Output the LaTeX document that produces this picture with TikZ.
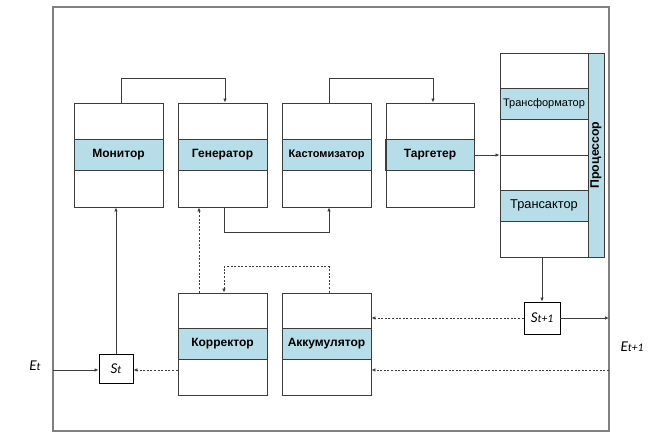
\documentclass[tikz,border=0pt]{standalone}
\usepackage{fontspec}
\setmainfont{Liberation Sans}
\newfontfamily\calib{Carlito}
\usetikzlibrary{arrows.meta}
\definecolor{bandc}{RGB}{183,221,232}
\definecolor{framec}{RGB}{128,128,128}
\definecolor{linec}{RGB}{60,60,60}
\tikzset{
  modbox/.style={draw=linec, line width=0.9pt, minimum width=89pt, minimum height=104pt, inner sep=0pt},
  band/.style={fill=bandc, draw=linec, line width=0.9pt, minimum width=89pt, minimum height=31pt, inner sep=0pt, font=\bfseries\fontsize{12}{14}\selectfont},
  arr/.style={draw=linec, line width=0.7pt, -{Latex[length=4pt,width=3.5pt]}},
  darr/.style={arr, dash pattern=on 2pt off 1.6pt},
  plain/.style={draw=linec, line width=0.7pt},
  sbox/.style={draw=black, line width=0.9pt, fill=white, inner sep=0pt},
  lbl/.style={font=\calib\itshape\fontsize{15}{17}\selectfont, inner sep=0pt}
}
\newcommand{\sub}[1]{{\fontsize{11.5}{13}\selectfont #1}}
\begin{document}
\begin{tikzpicture}[x=1pt,y=-1pt]
\useasboundingbox (0,0) rectangle (658,437);
\draw[framec, line width=1.4pt] (53,7) rectangle (609,431);
% top row
\node[band] (monl) at (118.5,154.5) {Монитор};
\node[modbox] (mon) at (118.5,155) {};
\node[band] (genl) at (222.5,154.5) {Генератор};
\node[modbox] (gen) at (222.5,155) {};
\node[band, font=\bfseries\fontsize{11}{13}\selectfont] (kasl) at (326.5,154.5) {Кастомизатор};
\node[modbox] (kas) at (326.5,155) {};
\node[band] (tarl) at (430,154.5) {Таргетер};
\node[modbox, minimum width=88pt] (tar) at (430,155) {};
% processor
\node[band, minimum width=88pt, font=\fontsize{11}{13}\selectfont] (trf) at (544,103.5) {Трансформатор};
\node[band, minimum width=88pt, font=\fontsize{12.8}{14}\selectfont] (trs) at (544,205.5) {Трансактор};
\node[band, minimum width=16pt, minimum height=204pt] (prl) at (596,155) {};
\node[rotate=90, font=\bfseries\fontsize{12.3}{14}\selectfont, inner sep=0pt] (prt) at (596,155) {Процессор};
\node[draw=linec, line width=0.9pt, minimum width=104pt, minimum height=204pt, inner sep=0pt] (proc) at (552,155) {};
\draw[plain] (proc.west |- tar.east) -- (prl.west |- tar.east);
% bottom row
\node[band] (korl) at (222.5,343.5) {Корректор};
\node[modbox, minimum height=102pt] (kor) at (222.5,344) {};
\node[band] (akkl) at (326.5,343.5) {Аккумулятор};
\node[modbox, minimum height=102pt] (akk) at (326.5,344) {};
% state boxes
\node[sbox, minimum width=34pt, minimum height=29pt] (st) at (116,369) {\calib\itshape\fontsize{15}{17}\selectfont S\sub{t}};
\node[sbox, minimum width=36pt, minimum height=32pt] (stn) at (542,318) {\calib\itshape\fontsize{15}{17}\selectfont S\sub{t+1}};
% labels
\node[lbl] (et) at (35,366) {E\sub{t}};
\node[lbl] (etn) at (632,347) {E\sub{t+1}};
\coordinate (ein) at (53,370);
\coordinate (eout) at (609,318);
\coordinate (ein2) at (609,370);
% connectors
\draw[arr] ([xshift=2.5pt]mon.north) -- ++(0,-24) -| ([xshift=2.5pt]gen.north);
\draw[arr] ([xshift=2.5pt]kas.north) -- ++(0,-24) -| ([xshift=3pt]tar.north);
\draw[arr] ([xshift=1.5pt]gen.south) -- ++(0,25) -| ([xshift=2.5pt]kas.south);
\draw[arr] (tar.east) -- (proc.west |- tar.east);
\draw[arr] (stn.north |- proc.south) -- (stn.north);
\draw[arr] (stn.east) -- (eout);
\draw[darr] (stn.west) -- (akk.east |- stn.west);
\draw[darr] (ein2) -- (akk.east |- ein2);
\draw[darr] ([xshift=2.5pt]akk.north) -- ++(0,-26) -| ([xshift=1.5pt]kor.north);
\draw[darr] ([xshift=-23.5pt]kor.north) -- ([xshift=-23.5pt]gen.south);
\draw[darr] (kor.west |- ein) -- (st.east |- ein);
\draw[arr] (ein) -- (st.west |- ein);
\draw[arr] (st.north) -- (st.north |- mon.south);
\end{tikzpicture}
\end{document}
